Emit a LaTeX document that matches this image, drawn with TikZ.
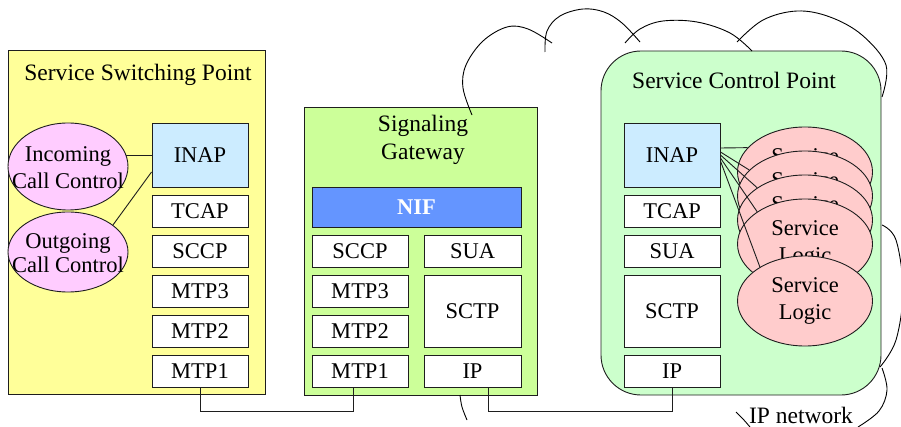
\documentclass[tikz,border=0pt]{standalone}
\usepackage{fontspec}
\setmainfont{Liberation Serif}
\usetikzlibrary{shapes.geometric,calc}
\definecolor{sspyellow}{RGB}{255,255,153}
\definecolor{inapblue}{RGB}{204,236,255}
\definecolor{ccpink}{RGB}{255,204,255}
\definecolor{sggreen}{RGB}{204,255,153}
\definecolor{nifblue}{RGB}{100,149,255}
\definecolor{scpgreen}{RGB}{204,255,204}
\definecolor{slpink}{RGB}{255,204,204}
\definecolor{edgec}{RGB}{30,30,30}
\begin{document}
\begin{tikzpicture}[x=1pt,y=-1pt,line width=0.9pt,
  lbl/.style={font=\fontsize{22.5}{27}\selectfont},
  ttl/.style={font=\fontsize{23.5}{28}\selectfont},
  panel/.style={draw=edgec,rectangle,inner sep=0pt},
  layer/.style={draw=edgec,fill=white,rectangle,inner sep=0pt,minimum width=96pt,minimum height=32pt,lbl},
  ccell/.style={draw=edgec,fill=ccpink,ellipse,inner sep=0pt,minimum width=120pt},
  slell/.style={draw=edgec,fill=slpink,ellipse,inner sep=0pt,minimum width=135pt,minimum height=90pt,align=center,lbl},
  conn/.style={draw=edgec,line width=0.9pt},
  cloud/.style={draw=black,line width=0.9pt}]
\useasboundingbox (0,0) rectangle (901,427);

% ---------- Service Switching Point ----------
\node[panel,fill=sspyellow,minimum width=257pt,minimum height=344pt] (ssp) at (136.5,222) {};
\node[ttl,anchor=base] (ssptitle) at (138,81) {Service Switching Point};
\node[layer,fill=inapblue,minimum height=64pt] (sinap) at (200,155) {INAP};
\node[layer] (stcap) at (200,211) {TCAP};
\node[layer] (ssccp) at (200,251) {SCCP};
\node[layer] (smtp3) at (200,291) {MTP3};
\node[layer] (smtp2) at (200,331) {MTP2};
\node[layer] (smtp1) at (200,371) {MTP1};
\node[ccell,minimum height=87pt] (inc) at (68,166.5) {};
\node[lbl,align=center] (inctext) at (68,168) {Incoming\\Call Control};
\node[ccell,minimum height=80pt] (outg) at (68,252) {};
\node[lbl,align=center,font=\fontsize{22.5}{24}\selectfont] (outgtext) at (68,253) {Outgoing\\Call Control};
\draw[conn] (inc.11) -- (inc.11 -| sinap.west);
\draw[conn] (outg.31) -- ($(sinap.west)+(0,17)$);

% ---------- Signaling Gateway ----------
\node[panel,fill=sggreen,minimum width=233pt,minimum height=288pt] (sg) at (420.5,251) {};
\node[ttl,align=center] (sgtitle) at (423,140) {Signaling\\Gateway};
\node[layer,fill=nifblue,text=white,font=\fontsize{22.5}{27}\selectfont\bfseries,minimum width=209pt,minimum height=40pt] (nif) at (416.5,207) {NIF};
\node[layer] (gsccp) at (360,251) {SCCP};
\node[layer] (gmtp3) at (360,291) {MTP3};
\node[layer] (gmtp2) at (360,331) {MTP2};
\node[layer] (gmtp1) at (360,371) {MTP1};
\node[layer,minimum width=97pt] (gsua) at (472.5,251) {SUA};
\node[layer,minimum width=97pt,minimum height=72pt] (gsctp) at (472.5,311) {SCTP};
\node[layer,minimum width=97pt] (gip) at (472.5,371) {IP};

% ---------- Service Control Point ----------
\node[panel,fill=scpgreen,rounded corners=40pt,minimum width=280pt,minimum height=344pt] (scp) at (741,223) {};
\node[ttl,anchor=base] (scptitle) at (734,89) {Service Control Point};
\node[layer,fill=inapblue,minimum height=64pt] (cinap) at (672,155) {INAP};
\node[layer] (ctcap) at (672,211) {TCAP};
\node[layer] (csua) at (672,251) {SUA};
\node[layer,minimum height=72pt] (csctp) at (672,311) {SCTP};
\node[layer] (cip) at (672,371) {IP};
\node[slell] (sl1) at (805,172) {Service\\Logic};
\node[slell] (sl2) at (805,196) {Service\\Logic};
\node[slell] (sl3) at (805,220) {Service\\Logic};
\node[slell] (sl4) at (805,244) {Service\\Logic};
\node[slell] (sl5) at (805,301) {Service\\Logic};
\draw[conn] ($(cinap.east)+(0,-7)$) -- (sl1.157);
\draw[conn] ($(cinap.east)+(0,-3)$) -- (sl2.155);
\draw[conn] ($(cinap.east)+(0,0)$) -- (sl3.146);
\draw[conn] ($(cinap.east)+(0,3)$) -- (sl4.146);
\draw[conn] ($(cinap.east)+(0,6)$) -- (sl5.143);

% ---------- links ----------
\draw[conn] (smtp1.south) -- ++(0,24) -| ($(gmtp1.south)+(-7,0)$);
\draw[conn] ($(gip.south)+(15.5,0)$) -- ++(0,24) -| (cip.south);

% ---------- IP network cloud ----------
\draw[cloud] plot[smooth,tension=0.6] coordinates {(472,115) (463,88) (466,65) (483,41) (507,27) (528,29) (552,43)};
\draw[cloud] plot[smooth,tension=0.6] coordinates {(545,52) (547,31) (560,16) (583,9) (604,12) (622,23) (640,42)};
\draw[cloud] plot[smooth,tension=0.6] coordinates {(625,43) (640,29) (663,21) (697,22) (730,33) (752,51)};
\draw[cloud] plot[smooth,tension=0.6] coordinates {(737,42) (763,20) (797,11) (830,17) (862,35) (886,65) (882,97)};
\draw[cloud] plot[smooth,tension=0.6] coordinates {(882,225) (896,240) (903,290) (896,340) (880,367)};
\draw[cloud] plot[smooth,tension=0.6] coordinates {(882,368) (887,390) (879,411) (858,427)};
\draw[cloud] plot[smooth,tension=0.6] coordinates {(736,412) (743,419) (750,427)};
\draw[cloud] plot[smooth,tension=0.6] coordinates {(460,395) (462,407) (467,420)};
\node[ttl,inner sep=0pt,anchor=base] (ipnet) at (801,423) {IP network};
\end{tikzpicture}
\end{document}
